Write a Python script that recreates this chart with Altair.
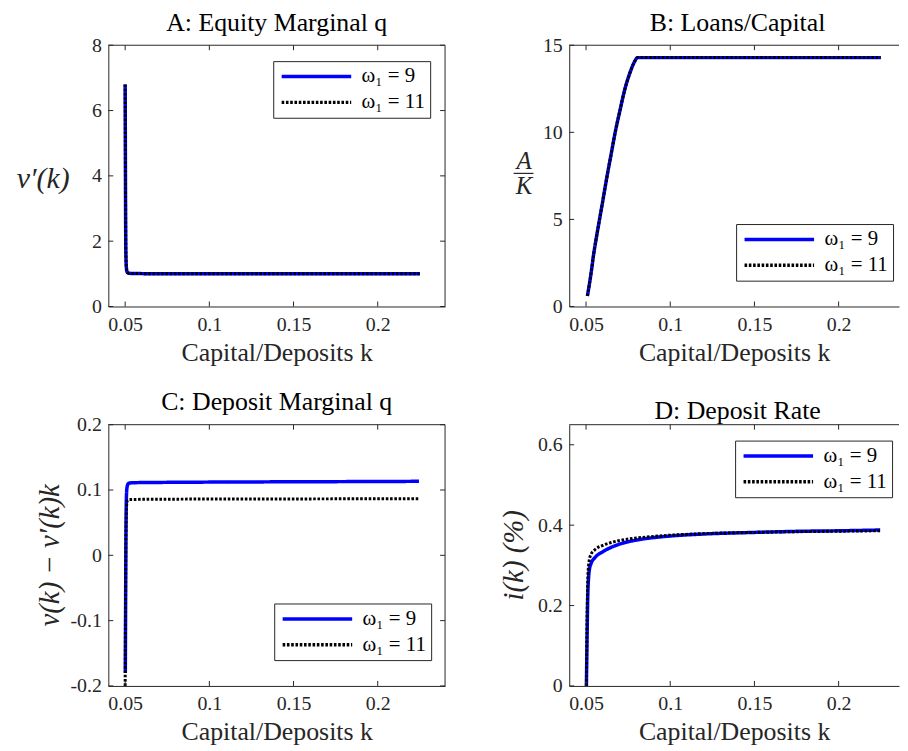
import altair as alt
import pandas as pd

LAB9 = "ω₁ = 9"
LAB11 = "ω₁ = 11"

X_TICKS = [0.05, 0.1, 0.15, 0.2]

# Panel A: Equity Marginal q
a_k = [0.0500, 0.0501, 0.0502, 0.0503, 0.0505, 0.0508, 0.0512, 0.0520, 0.0550, 0.0800, 0.1200, 0.1600, 0.2000, 0.2250]
a_v9 = [6.80, 5.20, 3.60, 2.40, 1.45, 1.15, 1.05, 1.02, 1.01, 1.00, 1.00, 1.00, 1.00, 1.00]
a_v11 = [6.80, 5.20, 3.60, 2.40, 1.45, 1.15, 1.05, 1.02, 1.01, 1.00, 1.00, 1.00, 1.00, 1.00]
a_yticks = [0, 2, 4, 6, 8]

# Panel B: Loans/Capital
b_k = [0.0508, 0.0515, 0.0531, 0.0545, 0.0562, 0.0580, 0.0600, 0.0625, 0.0650, 0.0673, 0.0700,
       0.0731, 0.0760, 0.0785, 0.0806, 0.1200, 0.1600, 0.2000, 0.2250]
b_v9 = [0.6, 1.0, 2.0, 3.0, 4.0, 5.0, 6.1, 7.5, 8.8, 10.0, 11.2, 12.5, 13.4, 14.0, 14.29, 14.29, 14.29, 14.29, 14.29]
b_v11 = [0.6, 1.0, 2.0, 3.0, 4.0, 5.0, 6.1, 7.5, 8.8, 10.0, 11.2, 12.5, 13.4, 14.0, 14.29, 14.29, 14.29, 14.29, 14.29]
b_yticks = [0, 5, 10, 15]

# Panel C: Deposit Marginal q
c_k9 = [0.0501, 0.0503, 0.0505, 0.0507, 0.0510, 0.0515, 0.0522, 0.0550, 0.0800, 0.1200, 0.1600, 0.2000, 0.2245]
c_v9 = [-0.18, -0.06, 0.04, 0.085, 0.102, 0.108, 0.1105, 0.1112, 0.1118, 0.1123, 0.1127, 0.1130, 0.1133]
c_k11 = [0.0500, 0.0502, 0.0504, 0.0507, 0.0510, 0.0515, 0.0525, 0.0800, 0.1200, 0.1600, 0.2000, 0.2245]
c_v11 = [-0.20, -0.08, 0.02, 0.066, 0.080, 0.0845, 0.0855, 0.0860, 0.0862, 0.0864, 0.0865, 0.0866]
c_yticks = [-0.2, -0.1, 0, 0.1, 0.2]

# Panel D: Deposit Rate
d_k = [0.0502, 0.0506, 0.0510, 0.0515, 0.0520, 0.0530, 0.0550, 0.0600, 0.0650, 0.0700, 0.0800,
       0.0900, 0.1000, 0.1200, 0.1500, 0.1800, 0.2000, 0.2247]
d_v9 = [0.0, 0.12, 0.22, 0.27, 0.29, 0.305, 0.318, 0.334, 0.345, 0.353, 0.363, 0.369, 0.373, 0.378,
        0.382, 0.385, 0.386, 0.388]
d_v11 = [0.0, 0.17, 0.26, 0.30, 0.315, 0.328, 0.338, 0.350, 0.357, 0.362, 0.368, 0.372, 0.375, 0.379,
         0.382, 0.384, 0.385, 0.386]
d_yticks = [0, 0.2, 0.4, 0.6]

FONT = "Liberation Serif"
AX = "#262626"
H = 263
TICK = 5
ONE = pd.DataFrame({"z": [0]})


def panel(title, xdom, ydom, yticks, k9, v9, k11, v11, W, lx, ly, ytitle, right=True,
          ylabel_expr=None, title_dx=0, title_offset=-22, extra=None):
    d9 = pd.DataFrame({"k": k9, "v": v9, "s": LAB9})
    d11 = pd.DataFrame({"k": k11, "v": v11, "s": LAB11})
    xs = alt.Scale(domain=xdom, nice=False, zero=False)
    ys = alt.Scale(domain=ydom, nice=False, zero=False)
    leg = alt.Legend(title=None, orient="none", legendX=lx, legendY=ly,
                     symbolType="M-1,0H9", symbolSize=196, symbolStrokeWidth=3.5,
                     labelFont=FONT, labelFontSize=21, labelColor="black",
                     padding=5, rowPadding=4, labelOffset=63,
                     fillColor="white", strokeColor=AX)
    color = alt.Color("s:N", scale=alt.Scale(domain=[LAB9, LAB11], range=["#0000ff", "#000000"]), legend=leg)
    dash = alt.StrokeDash("s:N", scale=alt.Scale(domain=[LAB9, LAB11], range=[[1, 0], [2.6, 1.7]]), legend=leg)
    xaxis = alt.Axis(title="Capital/Deposits k", values=X_TICKS, format="~g", labelFlush=False,
                     labelOverlap=False, ticks=False, tickSize=0, labelPadding=8,
                     labelFont=FONT, titleFont=FONT, labelFontSize=20,
                     labelBaseline="top", titleY=54, titleBaseline="alphabetic", titleFontSize=26)
    yargs = dict(values=yticks, format="~g", labelFlush=False, labelOverlap=False, ticks=False,
                 tickSize=0, labelPadding=7, labelFont=FONT, titleFont=FONT, labelFontSize=20,
                 **ytitle)
    if ylabel_expr:
        yargs["labelExpr"] = ylabel_expr
    yaxis = alt.Axis(**yargs)

    X = alt.X("k:Q", scale=xs, axis=xaxis)
    Y = alt.Y("v:Q", scale=ys, axis=yaxis)
    line9 = alt.Chart(d9).mark_line(strokeWidth=3.5, clip=True, interpolate="monotone").encode(
        x=X, y=Y, color=color, strokeDash=dash)
    line11 = alt.Chart(d11).mark_line(strokeWidth=3, clip=True, interpolate="monotone").encode(
        x=X, y=Y, color=color, strokeDash=dash)

    xt = pd.DataFrame({"k": X_TICKS})
    yt = pd.DataFrame({"v": yticks})
    layers = [line9, line11]
    layers.append(alt.Chart(xt).mark_rule(color=AX, strokeWidth=1).encode(
        x=X, y=alt.value(H), y2=alt.value(H - TICK)))
    layers.append(alt.Chart(xt).mark_rule(color=AX, strokeWidth=1).encode(
        x=X, y=alt.value(0), y2=alt.value(TICK)))
    layers.append(alt.Chart(yt).mark_rule(color=AX, strokeWidth=1).encode(
        y=Y, x=alt.value(0), x2=alt.value(TICK)))
    layers.append(alt.Chart(ONE).mark_rule(color=AX, strokeWidth=1).encode(
        x=alt.value(0), x2=alt.value(W), y=alt.value(0)))
    if right:
        layers.append(alt.Chart(yt).mark_rule(color=AX, strokeWidth=1).encode(
            y=Y, x=alt.value(W - TICK), x2=alt.value(W)))
        layers.append(alt.Chart(ONE).mark_rule(color=AX, strokeWidth=1).encode(
            x=alt.value(W), y=alt.value(0), y2=alt.value(H)))
    if extra is not None:
        layers.extend(extra)
    return alt.layer(*layers).properties(
        width=W, height=H,
        title=alt.TitleParams(title, baseline="alphabetic", offset=title_offset, anchor="middle",
                              frame="group", dx=title_dx, font=FONT))


WL = 339
WR = 332
XL = [0.04, 0.24]
XR = [0.04, 0.04 + 0.2 * WR / WL]

pA = panel("A: Equity Marginal q", XL, [0, 8], a_yticks, a_k, a_v9, a_k, a_v11, WL, 166, 16,
           dict(title="v′(k)", titleAngle=0, titleX=-66, titleY=134, titleAlign="center",
                titleBaseline="middle", titleFontSize=30, titleFontStyle="italic"))

frac_bar = alt.Chart(ONE).mark_rule(color=AX, strokeWidth=1.2).encode(
    x=alt.value(-56), x2=alt.value(-36), y=alt.value(129))
pB = panel("B: Loans/Capital", XR, [0, 15], b_yticks, b_k, b_v9, b_k, b_v11, WR, 168, 180,
           dict(title=["A", "K"], titleAngle=0, titleX=-46, titleY=116, titleAlign="center",
                titleBaseline="middle", titleLineHeight=25, titleFontSize=25,
                titleFontStyle="italic"),
           right=False, title_dx=3.5, extra=[frac_bar])

neg_expr = "datum.value < 0 ? '-' + format(-datum.value, '~g') : format(datum.value, '~g')"
pC = panel("C: Deposit Marginal q", XL, [-0.2, 0.2], c_yticks, c_k9, c_v9, c_k11, c_v11, WL, 167, 180,
           dict(title="v(k) − v′(k)k", titleAngle=270, titleX=-59, titleY=131, titleAlign="center",
                titleBaseline="middle", titleFontSize=29, titleFontStyle="italic"),
           ylabel_expr=neg_expr, title_offset=-21)

pD = panel("D: Deposit Rate", XR, [0, 0.65], d_yticks, d_k, d_v9, d_k, d_v11, WR, 167, 16,
           dict(title="i(k) (%)", titleAngle=270, titleX=-56, titleY=131, titleAlign="center",
                titleBaseline="middle", titleFontSize=29, titleFontStyle="italic"),
           right=False, title_dx=3.5, title_offset=-21)

chart = alt.concat(pA, pB, pC, pD, columns=2, spacing={"row": 119, "column": 125},
                   bounds="flush").resolve_scale(
    color="independent", strokeDash="independent", x="independent", y="independent"
).properties(
    padding={"left": 8, "top": 0, "right": 0, "bottom": 4}
).configure(font=FONT).configure_view(stroke=None).configure_axis(
    labelFont=FONT, titleFont=FONT, labelColor=AX, titleColor=AX, domainColor=AX,
    domainWidth=1, labelFontSize=20, titleFontWeight="normal", grid=False
).configure_legend(labelFont=FONT).configure_title(
    font=FONT, fontSize=26, fontWeight="normal", color="black")

chart.save("out.html", embed_options={"renderer": "svg", "actions": False})
